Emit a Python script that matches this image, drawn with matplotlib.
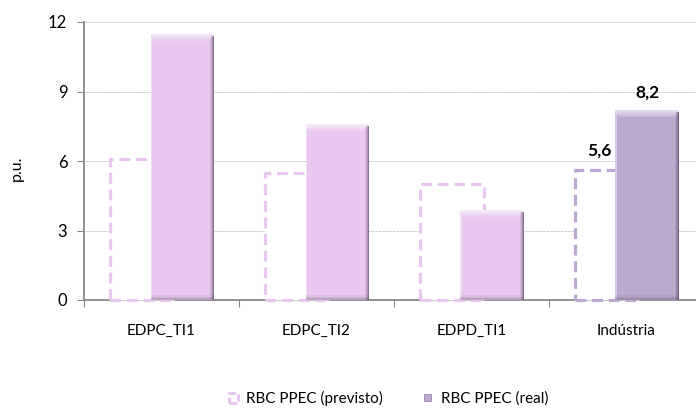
import numpy as np
import matplotlib.pyplot as plt
from matplotlib.patches import Rectangle
from matplotlib.legend_handler import HandlerBase

plt.rcParams['font.family'] = ['Lato', 'DejaVu Sans']

categorias = ['EDPC_TI1', 'EDPC_TI2', 'EDPD_TI1', 'Indústria']
previsto = [6.1, 5.5, 5.0, 5.6]
real = [11.5, 7.6, 3.9, 8.2]
rotulos_previsto = [None, None, None, '5,6']
rotulos_real = [None, None, None, '8,2']

cor_claro = '#E8C8EE'
cor_escuro = '#BBA9D0'
cores = [cor_claro, cor_claro, cor_claro, cor_escuro]

fig = plt.figure(figsize=(6.96, 4.08), dpi=100)
ax = fig.add_axes([84/696, 1-300/408, 1-84/696, 278/408])

x = np.arange(len(categorias)) + 0.5
w = 0.41
dx_prev, dx_real = -0.125, 0.135

# barras previstas: contorno tracejado
for xi, v, c in zip(x, previsto, cores):
    ax.bar(xi + dx_prev, v, w, facecolor='white', edgecolor=c, linewidth=2.3,
           linestyle=(0, (3.4, 1.8)), zorder=2.6, clip_on=False)

# barras reais com efeito de relevo (faixas em degrade)
for xi, v, c in zip(x, real, cores):
    xc = xi + dx_real
    ax.bar(xc, v, w, color=c, edgecolor='none', zorder=3)
    # topo claro
    for k, a in enumerate([0.6, 0.45, 0.3, 0.15]):
        ax.bar(xc, 0.08, w - 0.012*k, bottom=v - 0.08*(k+1), color='white', alpha=a,
               edgecolor='none', zorder=4)
    # lateral direita escura
    for k, a in enumerate([0.55, 0.35, 0.2, 0.1]):
        ax.bar(xc + w/2 - 0.006*(k+0.5), v - 0.1, 0.006, color='#3a2a45', alpha=a,
               edgecolor='none', zorder=4)
    # lateral esquerda clara
    ax.bar(xc - w/2 + 0.004, v - 0.1, 0.008, color='white', alpha=0.4,
           edgecolor='none', zorder=4)
    # base escura
    for k, a in enumerate([0.3, 0.18, 0.08]):
        ax.bar(xc, 0.07, w, bottom=0.07*k, color='#5a4a65', alpha=a,
               edgecolor='none', zorder=4)

for xi, v, t in zip(x, previsto, rotulos_previsto):
    if t:
        ax.text(xi + dx_prev - 0.05, v + 0.5, t, ha='center', va='bottom',
                fontsize=12.5, fontweight='bold', zorder=5)
for xi, v, t in zip(x, real, rotulos_real):
    if t:
        ax.text(xi + dx_real, v + 0.4, t, ha='center', va='bottom',
                fontsize=12.5, fontweight='bold', zorder=5)

ax.set_xlim(0, 3.95)
ax.set_ylim(0, 12)
ax.set_yticks([0, 3, 6, 9, 12])
ax.set_xticks([0, 1, 2, 3])
ax.set_xticklabels([])
ax.set_xticks(x, minor=True)
ax.set_xticklabels(categorias, minor=True)
ax.tick_params(axis='x', which='major', length=5, color='#888888')
ax.tick_params(axis='x', which='minor', length=0, pad=17, labelsize=11)
ax.tick_params(axis='y', length=5, color='#888888', labelsize=12, pad=7)
ax.grid(axis='y', color='#9a9a9a', linestyle=(0, (1, 1)), linewidth=0.5, zorder=0)
ax.set_axisbelow(True)
for s in ['top', 'right']:
    ax.spines[s].set_visible(False)
for s in ['left', 'bottom']:
    ax.spines[s].set_color('#888888')
    ax.spines[s].set_linewidth(1.3)
fig.text(17/696, 1-168/408, 'p.u.', rotation=90, ha='center', va='center', fontsize=11.5)


class HandlerTracejado(HandlerBase):
    def create_artists(self, legend, orig, xd, yd, wd, hd, fontsize, trans):
        r = Rectangle((xd + 1, yd), hd*0.85, hd*0.85, facecolor='white', edgecolor=cor_claro,
                      linewidth=2.2, linestyle=(0, (2.5, 1)), transform=trans)
        return [r]


class HandlerCheio(HandlerBase):
    def create_artists(self, legend, orig, xd, yd, wd, hd, fontsize, trans):
        r = Rectangle((xd + 1, yd + 1), hd*0.7, hd*0.7, facecolor=cor_escuro, edgecolor='#9a88ae',
                      linewidth=0.6, transform=trans)
        return [r]


h1 = Rectangle((0, 0), 1, 1)
h2 = Rectangle((0, 0), 1, 1)
fig.legend([h1, h2], ['RBC PPEC (previsto)', 'RBC PPEC (real)'],
           handler_map={h1: HandlerTracejado(), h2: HandlerCheio()},
           loc='center', bbox_to_anchor=(0.557, 1-398/408), ncol=2, frameon=False,
           fontsize=11, handlelength=0.7, handletextpad=0.5, columnspacing=2.6,
           borderpad=0, borderaxespad=0)

fig.savefig('out.png', dpi=100)
